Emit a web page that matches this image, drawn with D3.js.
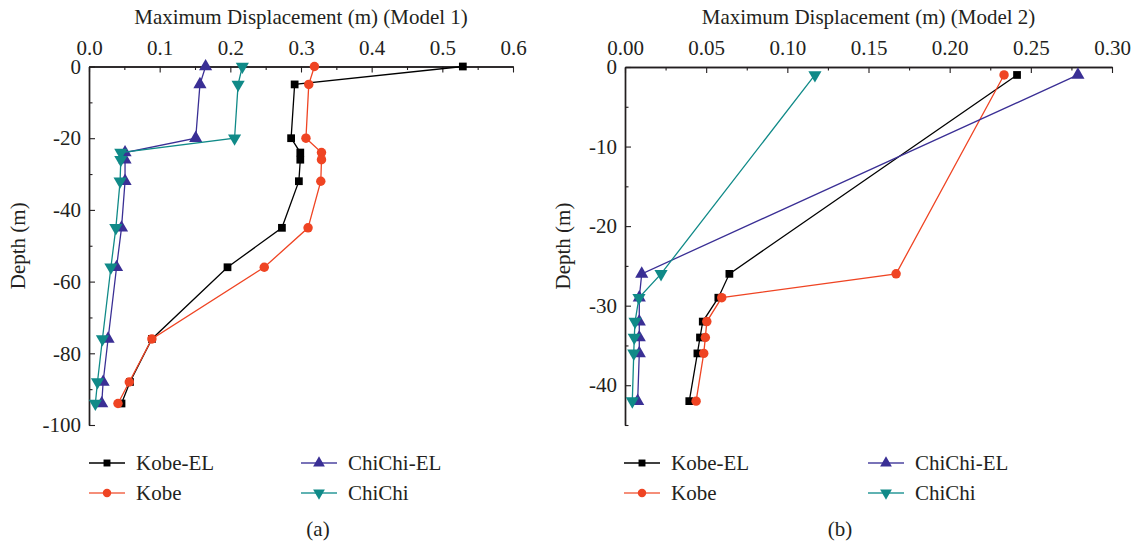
<!DOCTYPE html>
<html>
<head>
<meta charset="utf-8">
<script src="https://cdn.jsdelivr.net/npm/d3@7"></script>
<style>
  body { margin: 0; background: #fff; }
  text { font-family: "Liberation Serif", "DejaVu Serif", serif; fill: #231f20; }
</style>
</head>
<body>
<div id="chart_area"></div>
<script>
// panel (a) : Model 1
var depths1   = [0, -5, -20, -24, -26, -32, -45, -56, -76, -88, -94];
var kobeEL1   = [0.529, 0.291, 0.286, 0.299, 0.299, 0.297, 0.273, 0.196, 0.089, 0.058, 0.046];
var kobe1     = [0.319, 0.311, 0.307, 0.329, 0.329, 0.328, 0.310, 0.248, 0.089, 0.057, 0.041];
var chichiEL1 = [0.165, 0.157, 0.151, 0.051, 0.051, 0.051, 0.046, 0.039, 0.027, 0.020, 0.018];
var chichi1   = [0.217, 0.211, 0.206, 0.045, 0.045, 0.044, 0.038, 0.031, 0.019, 0.012, 0.009];

// panel (b) : Model 2
var depths2   = [-1, -26, -29, -32, -34, -36, -42];
var kobeEL2   = [0.2415, 0.0643, 0.0575, 0.0479, 0.0462, 0.0446, 0.0396];
var kobe2     = [0.2335, 0.167, 0.0596, 0.0504, 0.0495, 0.0485, 0.0438];
var chichiEL2 = [0.279, 0.0103, 0.0088, 0.0088, 0.0088, 0.0088, 0.0078];
var chichi2   = [0.117, 0.0222, 0.0086, 0.0062, 0.0057, 0.0054, 0.0045];

var seriesNames = ["Kobe-EL", "Kobe", "ChiChi-EL", "ChiChi"];
var xTicks1 = [0, 0.1, 0.2, 0.3, 0.4, 0.5, 0.6];
var yTicks1 = [0, -20, -40, -60, -80, -100];
var xTicks2 = [0, 0.05, 0.10, 0.15, 0.20, 0.25, 0.30];
var yTicks2 = [0, -10, -20, -30, -40];

var sColors = ["#000000", "#ef4423", "#3a2f95", "#108a88"];
var sLegendColors = ["#000000", "#f2684c", "#4d44a0", "#2a9998"];
var sSymbols = [d3.symbolSquare, d3.symbolCircle, d3.symbolTriangle, d3.symbolTriangle];
var sSizes = [60, 70, 75, 75];
var sRotate = [0, 0, 0, 180];
var sFont = "21px";

var sFrame = d3.select("#chart_area").append("svg")
  .attr("width", 1136).attr("height", 547);

function drawPanel(p) {
  var g = sFrame.append("g");
  var x = d3.scaleLinear().domain(p.xDomain).range([p.left, p.right]);
  var y = d3.scaleLinear().domain(p.yDomain).range([p.top, p.bottom]);

  // minor ticks
  g.append("g").attr("transform", "translate(0," + p.top + ")")
    .call(d3.axisTop(x).tickValues(p.xMinor).tickSize(-3.5).tickSizeOuter(0).tickFormat(""));
  g.append("g").attr("transform", "translate(" + p.left + ",0)")
    .call(d3.axisLeft(y).tickValues(p.yMinor).tickSize(-3.5).tickSizeOuter(0).tickFormat(""));

  // major ticks
  g.append("g").attr("transform", "translate(0," + p.top + ")")
    .call(d3.axisTop(x).tickValues(p.xTicks).tickSize(-6).tickSizeOuter(0).tickPadding(12)
      .tickFormat(d3.format(p.xFmt)));
  g.append("g").attr("transform", "translate(" + p.left + ",0)")
    .call(d3.axisLeft(y).tickValues(p.yTicks).tickSize(-6).tickSizeOuter(0).tickPadding(8)
      .tickFormat(function(d){ return String(d); }));
  g.selectAll(".domain").attr("stroke", "#231f20").attr("stroke-width", 1.4);
  g.selectAll(".tick line").attr("stroke", "#231f20").attr("stroke-width", 1.1);
  g.selectAll(".tick text").style("font-size", sFont).attr("fill", "#231f20")
    .style("font-family", "Liberation Serif");

  // titles
  g.append("text").attr("x", (p.left + p.right) / 2).attr("y", 24)
    .attr("text-anchor", "middle").style("font-size", sFont).text(p.title);
  g.append("text")
    .attr("transform", "translate(" + p.yLabelX + "," + ((p.top + p.bottom) / 2) + ") rotate(-90)")
    .attr("text-anchor", "middle").style("font-size", sFont).text("Depth (m)");
  g.append("text").attr("x", p.capX).attr("y", 536)
    .attr("text-anchor", "middle").style("font-size", sFont).text(p.caption);

  // lines and markers
  var line = d3.line().x(function(d){ return x(d[0]); }).y(function(d){ return y(d[1]); });
  p.series.forEach(function(vals, i) {
    var pts = vals.map(function(v, k){ return [v, p.depths[k]]; });
    g.append("path").datum(pts).attr("fill", "none")
      .attr("stroke", sColors[i]).attr("stroke-width", 1.3).attr("d", line);
    g.selectAll(".m" + i).data(pts).enter().append("path")
      .attr("transform", function(d){ return "translate(" + x(d[0]) + "," + y(d[1]) + ") rotate(" + sRotate[i] + ")"; })
      .attr("d", d3.symbol().type(sSymbols[i]).size(sSizes[i]))
      .attr("fill", sColors[i]);
  });

  // legend
  seriesNames.forEach(function(name, i) {
    var lx = p.legX[Math.floor(i / 2)];
    var ly = 463 + (i % 2) * 30;
    g.append("line").attr("x1", lx).attr("x2", lx + 36).attr("y1", ly).attr("y2", ly)
      .attr("stroke", sLegendColors[i]).attr("stroke-width", 1.3);
    g.append("path")
      .attr("transform", "translate(" + (lx + 18) + "," + ly + ") rotate(" + sRotate[i] + ")")
      .attr("d", d3.symbol().type(sSymbols[i]).size(sSizes[i] * 0.8))
      .attr("fill", sColors[i]);
    g.append("text").attr("x", lx + 47).attr("y", ly + 7)
      .style("font-size", sFont).text(name);
  });
}

drawPanel({
  left: 89, right: 513, top: 66.5, bottom: 425,
  xDomain: [0, 0.6], yDomain: [0, -100],
  xTicks: xTicks1, yTicks: yTicks1,
  xMinor: d3.range(0.05, 0.6, 0.1), yMinor: d3.range(-10, -100, -20),
  xFmt: ".1f",
  title: "Maximum Displacement (m) (Model 1)", yLabelX: 25, caption: "(a)", capX: 318,
  depths: depths1, series: [kobeEL1, kobe1, chichiEL1, chichi1],
  legX: [89, 301]
});

drawPanel({
  left: 625, right: 1112, top: 67, bottom: 425,
  xDomain: [0, 0.3], yDomain: [0, -45],
  xTicks: xTicks2, yTicks: yTicks2,
  xMinor: d3.range(0.025, 0.3, 0.05), yMinor: [-5, -15, -25, -35, -45],
  xFmt: ".2f",
  title: "Maximum Displacement (m) (Model 2)", yLabelX: 570, caption: "(b)", capX: 840,
  depths: depths2, series: [kobeEL2, kobe2, chichiEL2, chichi2],
  legX: [624, 868]
});
</script>
</body>
</html>
